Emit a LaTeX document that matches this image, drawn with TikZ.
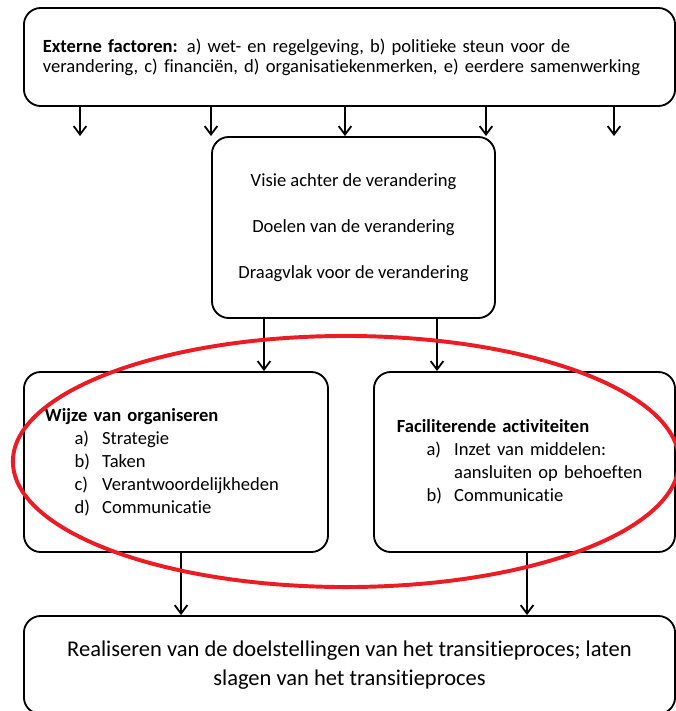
\documentclass[tikz,border=0pt]{standalone}
\usepackage{fontspec}
\setmainfont[Ligatures=NoCommon]{Carlito}
\usetikzlibrary{arrows.meta}
\definecolor{rood}{RGB}{237,28,36}
\newcommand{\itm}[2]{\hspace*{0.74cm}\makebox[0.69cm][l]{#1}#2}
\begin{document}
\begin{tikzpicture}[x=0.025cm, y=-0.025cm, >={Straight Barb[length=6pt,width=9pt]},
          bx/.style={draw, line width=1.3pt, rounded corners=0.42cm, inner ysep=0pt},
          pijl/.style={->, line width=1.3pt}]
        \useasboundingbox (0,0) rectangle (676,711);
        \node[bx, minimum width=16.275cm, minimum height=2.45cm, text width=15.325cm, inner xsep=0.475cm,
              align=left, font=\fontsize{13.2}{14.2}\selectfont] (ext) at (349.5,57)
              {\textbf{Externe factoren:} a) wet- en regelgeving, b) politieke steun voor de\\verandering, c) financiën, d) organisatiekenmerken, e) eerdere samenwerking};
        \node[bx, minimum width=7.075cm, minimum height=4.525cm, align=center,
              font=\fontsize{13.2}{15.5}\selectfont] (vis) at (353.5,227.5)
              {Visie achter de verandering\\[17pt]Doelen van de verandering\\[17pt]Draagvlak voor de verandering};
        \node[bx, minimum width=7.6cm, minimum height=4.5cm, text width=6.55cm, inner xsep=0.525cm,
              align=left, font=\fontsize{13.2}{16.4}\selectfont] (org) at (176,462)
              {\textbf{Wijze van organiseren}\\\itm{a)}{Strategie}\\\itm{b)}{Taken}\\\itm{c)}{Verantwoordelijkheden}\\\itm{d)}{Communicatie}};
        \node[bx, minimum width=7.525cm, minimum height=4.5cm, text width=6.375cm, inner xsep=0.575cm,
              align=left, font=\fontsize{13.2}{16.4}\selectfont] (fac) at (524.5,462)
              {\textbf{Faciliterende activiteiten}\\\itm{a)}{Inzet van middelen:}\\\hspace*{1.43cm}aansluiten op behoeften\\\itm{b)}{Communicatie}};
        \node[bx, minimum width=16.275cm, minimum height=2.45cm, align=center,
              font=\fontsize{16}{20.5}\selectfont] (res) at (349.5,665)
              {Realiseren van de doelstellingen van het transitieproces; laten\\slagen van het transitieproces};
        % pijlen
        \foreach \x in {80,211,345,486,614} {
          \coordinate (p) at (\x,0);
          \draw[pijl] (p |- ext.south) -- (p |- vis.north);
        }
        \coordinate (m1) at (264,0);
        \coordinate (m2) at (437,0);
        \draw[pijl] (m1 |- vis.south) -- (m1 |- org.north);
        \draw[pijl] (m2 |- vis.south) -- (m2 |- fac.north);
        \coordinate (o1) at (181,0);
        \coordinate (o2) at (527,0);
        \draw[pijl] (o1 |- org.south) -- (o1 |- res.north);
        \draw[pijl] (o2 |- fac.south) -- (o2 |- res.north);
        % rode ellips
        \draw[rood, line width=2.8pt] (346,461.5) ellipse [x radius=8.325cm, y radius=3.1375cm];
      \end{tikzpicture}
\end{document}
